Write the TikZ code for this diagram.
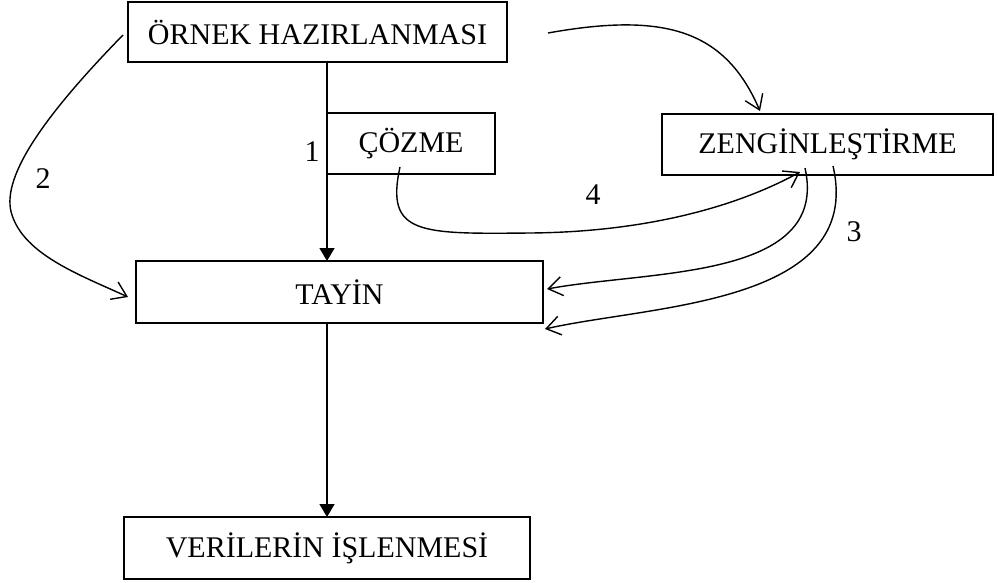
\documentclass[tikz,border=0pt]{standalone}
\usepackage{fontspec}
\setmainfont{Liberation Serif}
\usepackage{tikz}
\usetikzlibrary{arrows.meta,calc}
\tikzset{
  box/.style={draw,line width=1.5pt,inner sep=0pt,outer sep=0pt,font=\fontsize{30}{36}\selectfont},
  num/.style={inner sep=0pt,font=\fontsize{30}{36}\selectfont},
  flow/.style={-{Triangle[length=13pt,width=15pt]},line width=1.5pt},
  link/.style={-{Straight Barb[length=14pt,width=19pt]},line width=1.4pt}
}

\begin{document}
\begin{tikzpicture}[x=1pt,y=-1pt]
    \useasboundingbox (0,0) rectangle (998,582);
    \node[box,minimum width=379pt,minimum height=60pt] (ornek) at (317.5,32) {ÖRNEK HAZIRLANMASI};
    \node[box,minimum width=168pt,minimum height=61pt] (cozme) at (411,143.5) {ÇÖZME};
    \node[box,minimum width=331pt,minimum height=61pt] (zengin) at (827.5,144.5) {ZENGİNLEŞTİRME};
    \node[box,minimum width=407pt,minimum height=62pt] (tayin) at (339.5,292) {TAYİN};
    \node[box,minimum width=406pt,minimum height=62pt] (veri) at (327,548) {VERİLERİN İŞLENMESİ};
    \node[num] (n1) at (312,152) {1};
    \node[num] (n2) at (43,179) {2};
    \node[num] (n3) at (854,232) {3};
    \node[num] (n4) at (593,195) {4};
    \draw[flow] (cozme.west |- ornek.south) -- (cozme.west |- tayin.north);
    \draw[flow] (veri.north |- tayin.south) -- (veri.north);
    \draw[link] ([xshift=-5pt,yshift=-3pt]ornek.west) .. controls (40,120) and (0,180) .. (12,215)
      .. controls (25,255) and (80,275) .. ([xshift=-8pt,yshift=-5pt]tayin.west);
    \draw[link] ([xshift=41pt,yshift=-1pt]ornek.east) .. controls (665,12) and (725,30) .. ([xshift=-67.5pt,yshift=3pt]zengin.north);
    \draw[link] ([xshift=-11pt,yshift=7pt]cozme.south) .. controls (385,235) and (420,234) .. (530,233)
      .. controls (650,232) and (740,205) .. ([xshift=-27.5pt,yshift=3pt]zengin.south);
    \draw[link] ([xshift=-22.5pt,yshift=7pt]zengin.south) .. controls (830,280) and (650,270) .. ([xshift=4pt,yshift=3pt]tayin.east);
    \draw[link] ([xshift=5.5pt,yshift=9pt]zengin.south) .. controls (865,305) and (650,305) .. ([xshift=2pt,yshift=-6pt]tayin.south east);
\end{tikzpicture}
\end{document}
